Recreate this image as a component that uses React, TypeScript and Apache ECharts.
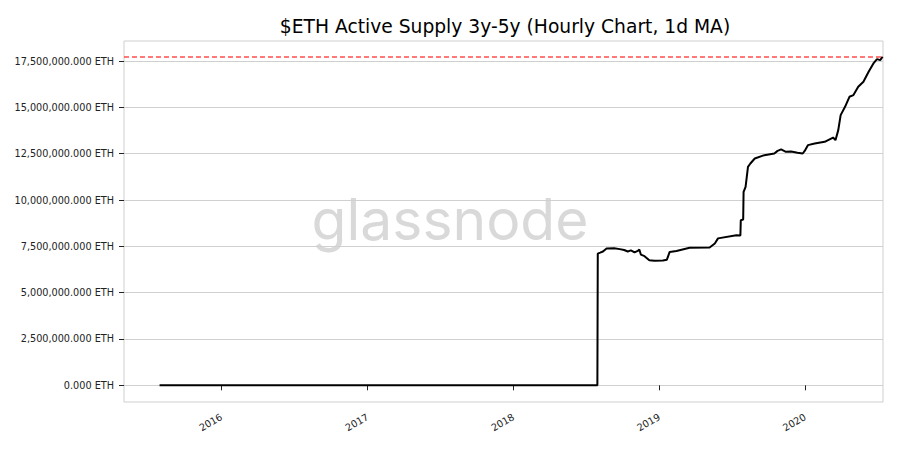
import { useEffect, useRef } from 'react';
import * as echarts from 'echarts';

// $ETH active supply 3y-5y (ETH)
const dates = [
  '2015-07-30', '2018-07-30', '2018-07-31', '2018-08-06', '2018-08-13', '2018-08-22',
  '2018-09-10', '2018-09-24', '2018-10-05', '2018-10-14', '2018-10-22', '2018-10-31',
  '2018-11-08', '2018-11-12', '2018-11-16', '2018-11-25', '2018-12-07', '2018-12-20',
  '2019-01-10', '2019-01-20', '2019-01-27', '2019-02-13', '2019-03-18', '2019-05-07',
  '2019-05-20', '2019-05-28', '2019-07-13', '2019-07-23', '2019-07-24', '2019-07-30',
  '2019-07-31', '2019-08-05', '2019-08-11', '2019-08-17', '2019-08-28', '2019-09-21',
  '2019-10-16', '2019-10-24', '2019-11-02', '2019-11-14', '2019-11-27', '2019-12-13',
  '2019-12-26', '2019-12-31', '2020-01-08', '2020-01-25', '2020-02-19', '2020-03-11',
  '2020-03-17', '2020-03-24', '2020-03-30', '2020-04-10', '2020-04-21', '2020-05-01',
  '2020-05-13', '2020-05-26', '2020-06-08', '2020-06-20', '2020-06-29', '2020-07-07',
  '2020-07-13',
];

const supply = [
  0, 0, 7110000, 7160000, 7220000, 7380000,
  7400000, 7350000, 7300000, 7220000, 7280000, 7170000,
  7250000, 7330000, 7050000, 6970000, 6750000, 6720000,
  6740000, 6780000, 7200000, 7250000, 7420000, 7440000,
  7650000, 7930000, 8100000, 8080000, 8910000, 8950000,
  10440000, 10710000, 11790000, 11970000, 12240000, 12420000,
  12510000, 12650000, 12730000, 12600000, 12620000, 12550000,
  12510000, 12650000, 12960000, 13050000, 13140000, 13370000,
  13230000, 13770000, 14580000, 15030000, 15570000, 15660000,
  16110000, 16380000, 16920000, 17370000, 17600000, 17550000,
  17730000,
];

const yTicks = [0, 2500000, 5000000, 7500000, 10000000, 12500000, 15000000, 17500000];
const xTickYears = [2016, 2017, 2018, 2019, 2020];

const fmtEth = (v: number) =>
  v.toLocaleString('en-US', { minimumFractionDigits: 3, maximumFractionDigits: 3 }) + ' ETH';

export default function App() {
  const chartRef = useRef<HTMLDivElement>(null);

  useEffect(() => {
    if (!chartRef.current) return;
    const chart = echarts.init(chartRef.current, null, { renderer: 'svg' });

    const font = 'DejaVu Sans';
    const xTicks = xTickYears.map((y) => Date.UTC(y, 0, 1));

    const option = {
      animation: false,
      backgroundColor: '#fff',
      title: {
        text: '$ETH Active Supply 3y-5y (Hourly Chart, 1d MA)',
        left: 500,
        top: 12,
        textAlign: 'center',
        textStyle: { fontFamily: font, fontSize: 18.7, fontWeight: 'normal', color: '#000' },
      },
      graphic: [
        {
          type: 'text',
          left: 'center',
          top: 191,
          x: 52,
          z: 0,
          silent: true,
          style: {
            text: 'glassnode',
            fontFamily: 'Inter',
            fontSize: 57,
            fontWeight: 400,
            fill: '#d9d9d9',
          },
        },
      ],
      grid: {
        left: 124,
        right: 17,
        top: 41,
        bottom: 48,
        show: true,
        borderColor: '#cfcfcf',
        borderWidth: 1,
        backgroundColor: 'transparent',
      },
      xAxis: {
        type: 'value',
        min: Date.UTC(2015, 4, 2),
        max: Date.UTC(2020, 6, 14),
        axisLine: { show: false },
        axisTick: {
          show: true,
          length: 5,
          customValues: xTicks,
          lineStyle: { color: '#222' },
        },
        axisLabel: {
          customValues: xTicks,
          rotate: 30,
          margin: 14,
          fontFamily: font,
          fontSize: 9.8,
          color: '#222',
          formatter: (v: number) => String(new Date(v).getUTCFullYear()),
        },
        splitLine: { show: false },
      },
      yAxis: {
        type: 'value',
        min: -900000,
        max: 18580000,
        axisLine: { show: false },
        axisTick: {
          show: true,
          length: 5,
          customValues: yTicks,
          lineStyle: { color: '#222' },
        },
        axisLabel: {
          customValues: yTicks,
          margin: 10,
          fontFamily: font,
          fontSize: 9.7,
          color: '#222',
          formatter: (v: number) => fmtEth(v),
        },
        splitLine: { show: true, lineStyle: { color: '#d0d0d0', width: 1 } },
      },
      series: [
        {
          type: 'line',
          data: dates.map((d, i) => [Date.parse(d + 'T00:00:00Z'), supply[i]]),
          showSymbol: false,
          lineStyle: { color: '#000', width: 2 },
          z: 3,
          markLine: {
            silent: true,
            symbol: 'none',
            label: { show: false },
            lineStyle: { color: '#ff4d4d', type: [5, 3], width: 1.5, opacity: 1 },
            data: [{ type: 'max' }],
          },
        },
      ],
    };

    chart.setOption(option);
    return () => {
      chart.dispose();
    };
  }, []);

  return (
    <div
      ref={chartRef}
      style={{ position: 'fixed', left: 0, top: 0, width: 900, height: 450 }}
    ></div>
  );
}
